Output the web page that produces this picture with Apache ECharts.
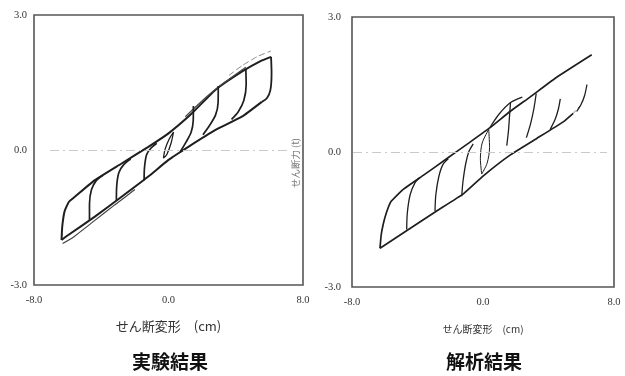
<!DOCTYPE html>
<html>
<head>
<meta charset="utf-8">
<script src="https://cdn.jsdelivr.net/npm/echarts@6/dist/echarts.min.js"></script>
<style>
  html, body { margin: 0; padding: 0; background: #fff; }
  #chart { width: 625px; height: 376px; }
</style>
</head>
<body>
<div id="chart"></div>
<script>
// Axis ticks (shear deformation in cm, shear force in t)
const xTicks = [-8, 0, 8];
const yTicks = [-3, 0, 3];

// ---- 実験結果 : hysteresis loops, [deformation cm, force t] ----
const expUpper = [[-6.36,-2.00],[-6.32,-1.70],[-6.18,-1.36],[-5.92,-1.15],[-5.57,-1.04],[-4.38,-0.67],[-2.79,-0.30],[-1.20,0.07],[0.00,0.37],[1.38,0.81],[2.77,1.33],[4.36,1.74],[5.50,1.98],[6.10,2.07]];
const expUnloadPeak = [[6.10,2.07],[6.13,1.70],[6.06,1.33],[5.85,1.15],[5.55,1.07]];
const expLower = [[5.55,1.07],[4.36,0.74],[2.77,0.44],[1.18,0.07],[0.00,-0.22],[-1.20,-0.59],[-2.79,-1.04],[-4.38,-1.48],[-5.96,-1.89],[-6.36,-2.00]];
const expLowerRepeat = [[-6.30,-2.08],[-5.60,-1.92],[-4.40,-1.57],[-3.20,-1.22],[-2.00,-0.88]];
const expUpperRepeat = [[1.00,0.74],[2.20,1.16],[3.40,1.52],[4.60,1.84]];
const expTopRepeat = [[3.60,1.66],[4.40,1.88],[5.30,2.08],[6.10,2.20]];
const expPos1 = [[4.60,1.80],[4.62,1.45],[4.48,1.10],[4.15,0.85],[3.75,0.68]];
const expPos2 = [[2.96,1.42],[2.95,1.05],[2.80,0.78],[2.45,0.55],[2.05,0.34]];
const expPos3 = [[1.48,0.98],[1.47,0.65],[1.35,0.40],[1.05,0.18],[0.70,-0.04]];
const expNeg1 = [[-4.70,-1.55],[-4.70,-1.20],[-4.58,-0.88],[-4.30,-0.68],[-3.90,-0.56]];
const expNeg2 = [[-3.10,-1.13],[-3.08,-0.80],[-2.95,-0.50],[-2.65,-0.32],[-2.25,-0.20]];
const expNeg3 = [[-1.45,-0.68],[-1.43,-0.40],[-1.30,-0.10],[-1.05,0.04],[-0.70,0.15]];
const expCenter = [[0.30,0.40],[0.15,0.15],[-0.10,-0.10],[-0.30,-0.18],[-0.20,0.02],[0.05,0.25],[0.30,0.40]];

// ---- 解析結果 : analysis loops ----
const anaUpper = [[-6.29,-2.14],[-6.22,-1.85],[-6.09,-1.60],[-5.90,-1.35],[-5.62,-1.10],[-4.87,-0.83],[-3.65,-0.52],[-2.22,-0.15],[-0.79,0.22],[0.43,0.54],[1.65,0.90],[2.87,1.22],[4.50,1.66],[6.64,2.16]];
const anaLower = [[-6.29,-2.14],[-4.46,-1.70],[-2.83,-1.31],[-1.20,-0.93],[0.02,-0.53],[1.65,-0.07],[3.28,0.30],[4.90,0.67],[5.51,0.86]];
const anaLowerTail = [[5.51,0.86],[6.10,1.09]];
const anaTopReturn = [[0.43,0.55],[1.00,0.85],[1.68,1.10],[2.40,1.22]];
const anaPos1 = [[1.68,1.10],[1.62,0.80],[1.55,0.45],[1.45,0.14]];
const anaPos2 = [[3.25,1.30],[3.10,0.95],[2.90,0.62],[2.65,0.32]];
const anaPos3 = [[4.72,1.18],[4.60,0.95],[4.40,0.72],[4.10,0.50]];
const anaPos4 = [[6.35,1.50],[6.20,1.25],[5.98,1.05],[5.72,0.90]];
const anaNeg1 = [[-4.66,-1.72],[-4.62,-1.35],[-4.45,-0.95],[-4.15,-0.68],[-3.85,-0.56]];
const anaNeg2 = [[-2.93,-1.31],[-2.88,-0.95],[-2.70,-0.55],[-2.45,-0.28],[-2.12,-0.15]];
const anaNeg3 = [[-1.30,-0.98],[-1.22,-0.65],[-1.05,-0.25],[-0.85,0.02],[-0.60,0.18]];
const anaLensLeft = [[-0.08,-0.49],[-0.16,-0.15],[-0.05,0.20],[0.35,0.50]];
const anaLensRight = [[-0.08,-0.49],[0.25,-0.25],[0.40,0.10],[0.35,0.50]];

// zero reference lines (x extent of the dash-dot line)
const expZeroSpan = [-7.05, 7.20];
const anaZeroSpan = [-7.94, 7.57];

const serifFont = '"Liberation Serif", "DejaVu Serif", serif';
const cjkFont = '"Noto Sans CJK JP", sans-serif';

function curve(data, grid, opts) {
  opts = opts || {};
  return {
    type: 'line',
    xAxisIndex: grid,
    yAxisIndex: grid,
    data: data,
    showSymbol: false,
    symbol: 'none',
    smooth: opts.smooth == null ? 0.3 : opts.smooth,
    silent: true,
    animation: false,
    z: opts.z || 3,
    lineStyle: {
      color: opts.color || '#1e1e1e',
      width: opts.width || 1.5,
      type: opts.type || 'solid'
    }
  };
}

function zeroLine(span, grid) {
  return {
    type: 'line',
    xAxisIndex: grid,
    yAxisIndex: grid,
    data: [],
    silent: true,
    animation: false,
    z: 1,
    markLine: {
      silent: true,
      symbol: 'none',
      label: { show: false },
      lineStyle: { color: '#c9c9c9', width: 1.2, type: [9, 4, 2, 4] },
      data: [[{ coord: [span[0], 0] }, { coord: [span[1], 0] }]]
    }
  };
}

function xAxisFor(grid, name, nameSize, nameGap) {
  return {
    type: 'value', gridIndex: grid, min: xTicks[0], max: xTicks[2], interval: 8,
    axisLine: { show: false }, axisTick: { show: false }, splitLine: { show: false },
    axisLabel: { margin: 10, fontFamily: serifFont, fontSize: 10.5, color: '#333',
      formatter: v => v.toFixed(1) },
    name: name, nameLocation: 'middle', nameGap: nameGap,
    nameTextStyle: { fontFamily: cjkFont, fontSize: nameSize, color: '#333' }
  };
}

function yAxisFor(grid, margin) {
  return {
    type: 'value', gridIndex: grid, min: yTicks[0], max: yTicks[2], interval: 3,
    axisLine: { show: false }, axisTick: { show: false }, splitLine: { show: false },
    axisLabel: { margin: margin, fontFamily: serifFont, fontSize: 10.5, color: '#333',
      formatter: v => v.toFixed(1) }
  };
}

const chart = echarts.init(document.getElementById('chart'), null, { renderer: 'canvas' });

chart.setOption({
  backgroundColor: '#ffffff',
  animation: false,
  title: [
    { text: '実験結果', left: 165, top: 347, textAlign: 'center',
      textStyle: { fontFamily: cjkFont, fontSize: 19, fontWeight: 'bold', color: '#111' } },
    { text: '解析結果', left: 479, top: 347, textAlign: 'center',
      textStyle: { fontFamily: cjkFont, fontSize: 19, fontWeight: 'bold', color: '#111' } }
  ],
  graphic: [
    { type: 'text', x: 295, y: 163, rotation: Math.PI / 2, silent: true,
      style: { text: 'せん断力 (t)', fontFamily: cjkFont, fontSize: 9.5, fill: '#777',
        align: 'center', verticalAlign: 'middle' } }
  ],
  grid: [
    { left: 34, top: 15, width: 269, height: 270, show: true, borderColor: '#555', borderWidth: 1.6, backgroundColor: 'transparent' },
    { left: 352, top: 17, width: 262, height: 270, show: true, borderColor: '#555', borderWidth: 1.6, backgroundColor: 'transparent' }
  ],
  xAxis: [
    xAxisFor(0, 'せん断変形　(cm)', 13, 35),
    xAxisFor(1, 'せん断変形　(cm)', 10, 37)
  ],
  yAxis: [
    yAxisFor(0, 7),
    yAxisFor(1, 11)
  ],
  series: [
    zeroLine(expZeroSpan, 0),
    curve(expUpper, 0, { width: 2.0, smooth: 0.15 }),
    curve(expUnloadPeak, 0, { width: 1.8 }),
    curve(expLower, 0, { width: 2.0, smooth: 0.15 }),
    curve(expLowerRepeat, 0, { width: 1.2, color: '#444', smooth: 0.15 }),
    curve(expUpperRepeat, 0, { width: 1.2, color: '#444', smooth: 0.15 }),
    curve(expTopRepeat, 0, { width: 1.0, color: '#888', type: [6, 3], smooth: 0.15 }),
    curve(expPos1, 0, { width: 1.7 }),
    curve(expPos2, 0, { width: 1.7 }),
    curve(expPos3, 0, { width: 1.7 }),
    curve(expNeg1, 0, { width: 1.7 }),
    curve(expNeg2, 0, { width: 1.7 }),
    curve(expNeg3, 0, { width: 1.7 }),
    curve(expCenter, 0, { width: 1.3 }),

    zeroLine(anaZeroSpan, 1),
    curve(anaUpper, 1, { width: 1.7, smooth: 0.12 }),
    curve(anaLower, 1, { width: 1.7, smooth: 0.12 }),
    curve(anaLowerTail, 1, { width: 1.0, color: '#666', type: [4, 3] }),
    curve(anaTopReturn, 1, { width: 1.2 }),
    curve(anaPos1, 1, { width: 1.3 }),
    curve(anaPos2, 1, { width: 1.3 }),
    curve(anaPos3, 1, { width: 1.3 }),
    curve(anaPos4, 1, { width: 1.3 }),
    curve(anaNeg1, 1, { width: 1.3 }),
    curve(anaNeg2, 1, { width: 1.3 }),
    curve(anaNeg3, 1, { width: 1.3 }),
    curve(anaLensLeft, 1, { width: 1.0 }),
    curve(anaLensRight, 1, { width: 1.0 })
  ]
});
</script>
</body>
</html>
